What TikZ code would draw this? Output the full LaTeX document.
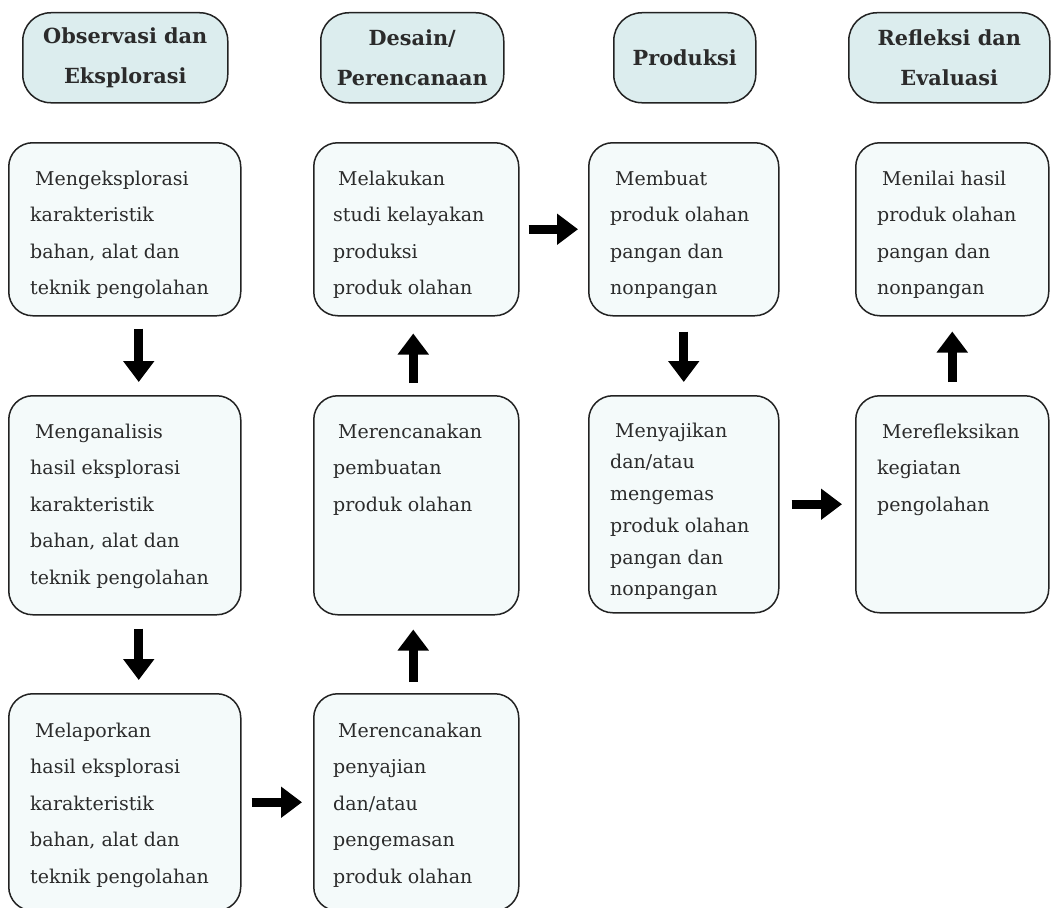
\documentclass[tikz,border=0pt]{standalone}
\usepackage{fontspec}
\setmainfont{DejaVu Serif}
\usetikzlibrary{arrows.meta}
\definecolor{headfill}{HTML}{DCEDEE}
\definecolor{boxfill}{HTML}{F4FAFA}
\definecolor{edge}{HTML}{222222}
\definecolor{ink}{HTML}{2B2B2B}

\begin{document}
\begin{tikzpicture}[x=1pt,y=-1pt,
  head/.style={draw=edge, line width=1.5pt, fill=headfill, rounded corners=28pt,
    inner sep=0pt, align=center, anchor=north west, minimum height=90pt,
    font=\fontsize{20.8}{40}\selectfont\bfseries, text=ink},
  card/.style={draw=edge, line width=1.5pt, fill=boxfill, rounded corners=24pt,
    inner sep=0pt, anchor=north west},
  cardtext/.style={anchor=north west, inner sep=0pt, align=left,
    font=\fontsize{19}{36.5}\selectfont, text=ink},
  flow/.style={line width=9pt, -{Triangle[length=21pt,width=30pt]}, black}
]
\useasboundingbox (0,0) rectangle (1051,907);

% phase headers
\node[head, minimum width=205pt] (h1) at (22,12) {Observasi dan\\Eksplorasi};
\node[head, minimum width=183pt] (h2) at (320,12) {Desain/\\Perencanaan};
\node[head, minimum width=142pt] (h3) at (613,12) {Produksi};
\node[head, minimum width=201pt] (h4) at (848,12) {Refleksi dan\\Evaluasi};

% step cards
\node[card, minimum width=232pt, minimum height=173pt] (c1a) at (8,142) {};
\node[card, minimum width=232pt, minimum height=219pt] (c1b) at (8,395) {};
\node[card, minimum width=232pt, minimum height=217pt] (c1c) at (8,693) {};
\node[card, minimum width=205pt, minimum height=173pt] (c2a) at (313,142) {};
\node[card, minimum width=205pt, minimum height=219pt] (c2b) at (313,395) {};
\node[card, minimum width=205pt, minimum height=217pt] (c2c) at (313,693) {};
\node[card, minimum width=190pt, minimum height=173pt] (c3a) at (588,142) {};
\node[card, minimum width=190pt, minimum height=217pt] (c3b) at (588,395) {};
\node[card, minimum width=193pt, minimum height=173pt] (c4a) at (855,142) {};
\node[card, minimum width=193pt, minimum height=217pt] (c4b) at (855,395) {};

% card texts
\newcommand{\firstline}{\rule{0pt}{15pt}\hspace*{5pt}}
\node[cardtext] (t1a) at ([shift={(22,28)}]c1a.north west)
  {\firstline Mengeksplorasi\\karakteristik\\bahan, alat dan\\teknik pengolahan};
\node[cardtext] (t1b) at ([shift={(22,28)}]c1b.north west)
  {\firstline Menganalisis\\hasil eksplorasi\\karakteristik\\bahan, alat dan\\teknik pengolahan};
\node[cardtext] (t1c) at ([shift={(22,29)}]c1c.north west)
  {\firstline Melaporkan\\hasil eksplorasi\\karakteristik\\bahan, alat dan\\teknik pengolahan};
\node[cardtext] (t2a) at ([shift={(20,28)}]c2a.north west)
  {\firstline Melakukan\\studi kelayakan\\produksi\\produk olahan};
\node[cardtext] (t2b) at ([shift={(20,28)}]c2b.north west)
  {\firstline Merencanakan\\pembuatan\\produk olahan};
\node[cardtext] (t2c) at ([shift={(20,29)}]c2c.north west)
  {\firstline Merencanakan\\penyajian\\dan/atau\\pengemasan\\produk olahan};
\node[cardtext] (t3a) at ([shift={(22,28)}]c3a.north west)
  {\firstline Membuat\\produk olahan\\pangan dan\\nonpangan};
\node[cardtext, font=\fontsize{19}{31.7}\selectfont] (t3b) at ([shift={(22,27)}]c3b.north west)
  {\firstline Menyajikan\\dan/atau\\mengemas\\produk olahan\\pangan dan\\nonpangan};
\node[cardtext] (t4a) at ([shift={(22,28)}]c4a.north west)
  {\firstline Menilai hasil\\produk olahan\\pangan dan\\nonpangan};
\node[cardtext] (t4b) at ([shift={(22,28)}]c4b.north west)
  {\firstline Merefleksikan\\kegiatan\\pengolahan};

% flow arrows
\draw[flow, shorten <=12pt, shorten >=13pt] ([xshift=14pt]c1a.south) -- ([xshift=14pt]c1b.north);
\draw[flow, shorten <=13pt, shorten >=13pt] ([xshift=14pt]c1b.south) -- ([xshift=14pt]c1c.north);
\draw[flow, shorten <=10pt, shorten >=11pt] (c1c.east) -- (c2c.west);
\draw[flow, shorten <=11pt, shorten >=14pt] ([xshift=-3pt]c2c.north) -- ([xshift=-3pt]c2b.south);
\draw[flow, shorten <=12pt, shorten >=17pt] ([xshift=-3pt]c2b.north) -- ([xshift=-3pt]c2a.south);
\draw[flow, shorten <=9pt, shorten >=10pt] (c2a.east) -- (c3a.west);
\draw[flow, shorten <=15pt, shorten >=13pt] (c3a.south) -- (c3b.north);
\draw[flow, shorten <=12pt, shorten >=13pt] (c3b.east) -- (c4b.west);
\draw[flow, shorten <=13pt, shorten >=15pt] (c4b.north) -- (c4a.south);
\end{tikzpicture}
\end{document}
